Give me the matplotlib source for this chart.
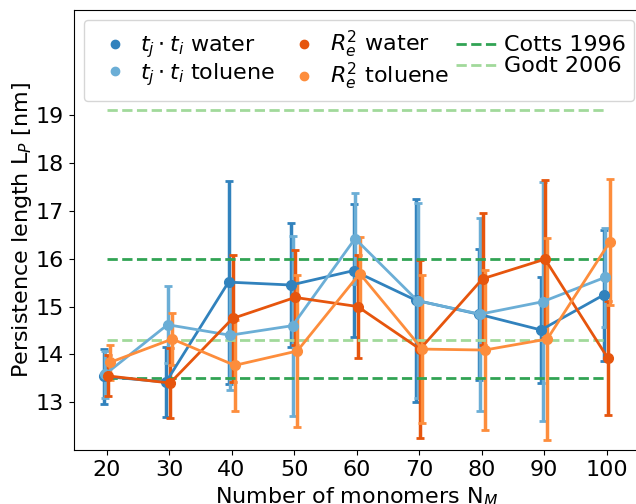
import matplotlib
matplotlib.use("Agg")
import matplotlib.pyplot as plt
from matplotlib.lines import Line2D
import numpy as np

N = [20, 30, 40, 50, 60, 70, 80, 90, 100]

tt_water = [13.54, 13.42, 15.51, 15.45, 15.75, 15.13, 14.84, 14.51, 15.24]
tt_water_err = [0.57, 0.73, 2.12, 1.30, 1.39, 2.12, 1.37, 1.11, 1.37]
tt_toluene = [13.58, 14.62, 14.40, 14.60, 16.42, 15.12, 14.84, 15.10, 15.61]
tt_toluene_err = [0.50, 0.80, 1.14, 1.88, 0.95, 2.04, 2.02, 2.50, 1.04]
re_water = [13.55, 13.40, 14.75, 15.19, 15.00, 14.11, 15.58, 15.99, 13.93]
re_water_err = [0.43, 0.73, 1.33, 1.00, 1.07, 1.86, 1.38, 1.65, 1.19]
re_toluene = [13.83, 14.32, 13.77, 14.07, 15.69, 14.11, 14.09, 14.32, 16.35]
re_toluene_err = [0.36, 0.54, 0.95, 1.58, 0.77, 1.55, 1.67, 2.11, 1.31]

cotts = [16.0, 13.5]
godt = [19.1, 14.3]

labels = [r"$t_j \cdot t_i$ water", r"$t_j \cdot t_i$ toluene",
          r"$R_e^2$ water", r"$R_e^2$ toluene"]
colors = ["#3182bd", "#6baed6", "#e6550d", "#fd8d3c"]
offsets = [-0.5, -0.25, 0.15, 0.5]

fig = plt.figure(figsize=(6.36, 5.04), dpi=100)
ax = fig.add_axes([73.5 / 636, 1 - 450 / 504, (638.5 - 73.5) / 636, 440 / 504])

series = [(tt_water, tt_water_err), (tt_toluene, tt_toluene_err),
          (re_water, re_water_err), (re_toluene, re_toluene_err)]
x = np.array(N, dtype=float)
for (y, e), c, off in zip(series, colors, offsets):
    ax.errorbar(x + off, y, yerr=e, color=c, marker="o", markersize=7,
                linewidth=2, elinewidth=2.5, capsize=3, capthick=2)

ax.hlines(cotts, N[0], N[-1], colors="#31a354", linestyles="--", linewidth=2)
ax.hlines(godt, N[0], N[-1], colors="#a1d99b", linestyles="--", linewidth=2)

handles = [Line2D([], [], color=c, marker="o", linestyle="none", markersize=6)
           for c in colors]
handles.append(Line2D([], [], color="#31a354", linestyle="--", linewidth=2))
handles.append(Line2D([], [], color="#a1d99b", linestyle="--", linewidth=2))
leg_labels = labels + ["Cotts 1996", "Godt 2006"]
ax.legend(handles, leg_labels, loc="upper left", ncol=3, fontsize=16,
          handletextpad=0.15, columnspacing=0.3, borderaxespad=0.45,
          labelspacing=0.05)

ax.set_xlim(14.7, 105.1)
ax.set_ylim(12.0, 21.2)
ax.set_xticks(N)
ax.set_yticks([13, 14, 15, 16, 17, 18, 19])
ax.tick_params(labelsize=16)
ax.set_xlabel(r"Number of monomers N$_M$", fontsize=16)
ax.set_ylabel(r"Persistence length L$_P$ [nm]", fontsize=16, labelpad=1)

fig.savefig("out.png", dpi=100)
